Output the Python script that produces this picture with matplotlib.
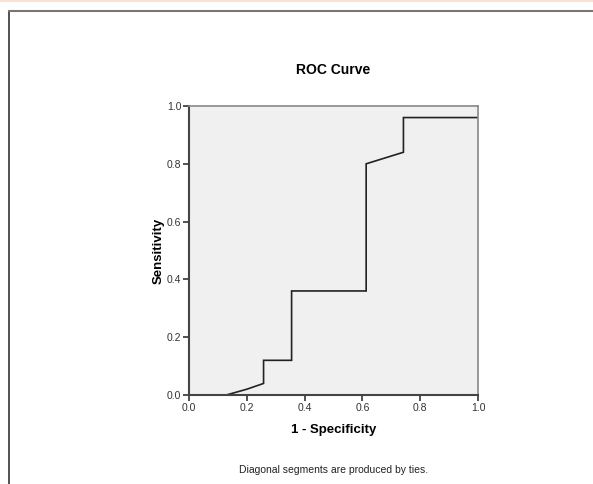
#!/usr/bin/env python3
"""ROC curve, SPSS style."""

import matplotlib.pyplot as plt
from matplotlib.lines import Line2D

plt.rcParams["font.family"] = ["Liberation Sans", "DejaVu Sans"]

# ---- Data ----
fpr = [0.0, 0.129, 0.2, 0.258, 0.258, 0.355, 0.355, 0.613, 0.613, 0.742, 0.742, 1.0]
tpr = [0.0, 0.0, 0.02, 0.04, 0.12, 0.12, 0.36, 0.36, 0.80, 0.84, 0.96, 0.96]
ticks = [0.0, 0.2, 0.4, 0.6, 0.8, 1.0]
tick_labels = ["0.0", "0.2", "0.4", "0.6", "0.8", "1.0"]

W, H = 593, 484
fig = plt.figure(figsize=(W / 100, H / 100), dpi=100, facecolor="white")

# page frame (output viewer look)
fig.add_artist(Line2D([0, 1], [1 - 0.5 / H, 1 - 0.5 / H], transform=fig.transFigure,
                      color="#fde3d4", linewidth=1.5))
fig.add_artist(Line2D([9 / W, 9 / W], [0, 1 - 11 / H], transform=fig.transFigure,
                      color="#333333", linewidth=1.2))
fig.add_artist(Line2D([9 / W, 1], [1 - 11 / H, 1 - 11 / H], transform=fig.transFigure,
                      color="#777777", linewidth=1.5))

# axes box: x 189..478 px, y 106..395 px
x0, x1, y0, y1 = 189, 478, 106, 395
ax = fig.add_axes([x0 / W, 1 - y1 / H, (x1 - x0) / W, (y1 - y0) / H])
ax.set_facecolor("#f0f0f0")

ax.plot(fpr, tpr, color="#222222", linewidth=1.2, solid_joinstyle="miter")

ax.set_xlim(0, 1)
ax.set_ylim(0, 1)
ax.set_xticks(ticks, tick_labels)
ax.set_yticks(ticks, tick_labels)
ax.tick_params(axis="both", labelsize=7.5, length=4, width=1.2, pad=1.5,
               color="#333333", labelcolor="#333333")

for side in ["left", "bottom"]:
    ax.spines[side].set_color("#444444")
    ax.spines[side].set_linewidth(1.5)
for side in ["top", "right"]:
    ax.spines[side].set_color("#888888")
    ax.spines[side].set_linewidth(1.2)

ax.set_xlabel("1 - Specificity", fontsize=9.5, fontweight="bold", labelpad=8)
ax.set_ylabel("Sensitivity", fontsize=9.5, fontweight="bold", labelpad=1.5)

fig.text((x0 + x1) / 2 / W, 1 - 70 / H, "ROC Curve", fontsize=10,
         fontweight="bold", ha="center", va="center")
fig.text((x0 + x1) / 2 / W, 1 - 470 / H, "Diagonal segments are produced by ties.",
         fontsize=7.5, color="#222222", ha="center", va="center")

fig.savefig("out.png", dpi=100, facecolor="white")
plt.close()
